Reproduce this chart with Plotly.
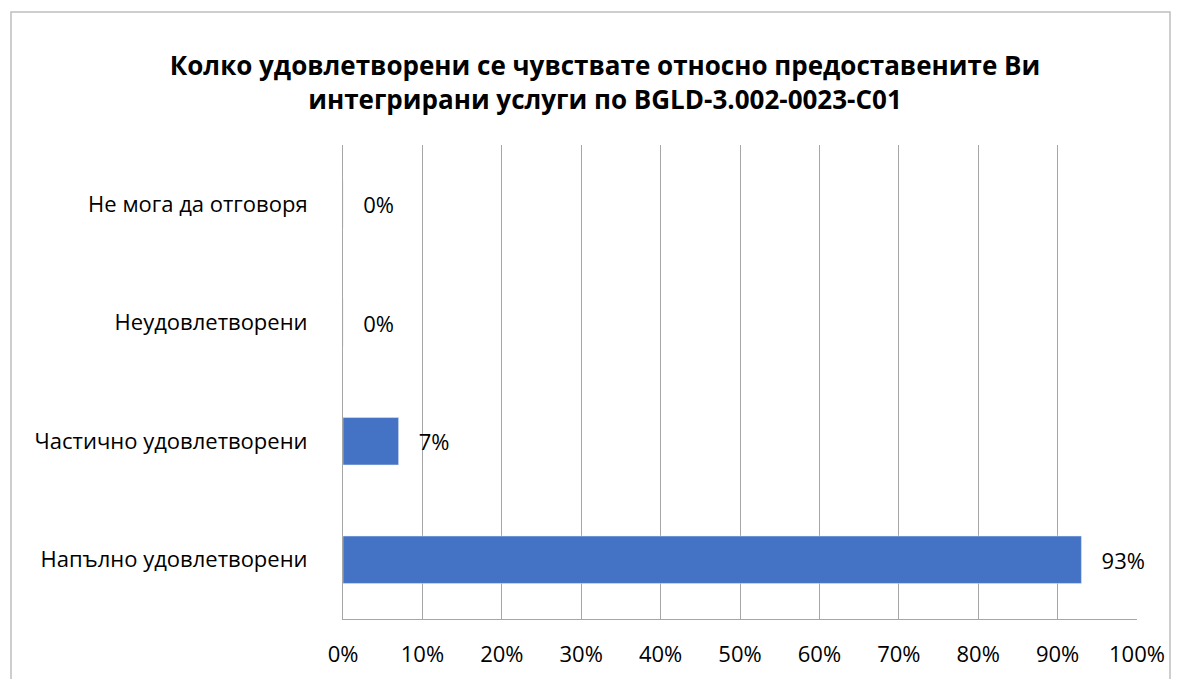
import plotly.graph_objects as go

categories = ["Напълно удовлетворени", "Частично удовлетворени", "Неудовлетворени", "Не мога да отговоря"]
values = [93, 7, 0, 0]
labels = ["93%", "7%", "0%", "0%"]
tick_vals = [0, 10, 20, 30, 40, 50, 60, 70, 80, 90, 100]
tick_text = ["0%", "10%", "20%", "30%", "40%", "50%", "60%", "70%", "80%", "90%", "100%"]

FONT = "Open Sans"
W, H = 1182, 679
# plot area in screen pixels
SX0, SX1, SY0, SY1 = 343, 1137, 145, 619
L, T = SX0, SY0
R, B = W - SX1, H - SY1
pw, ph = W - L - R, H - T - B

NB = "\u00a0"
fig = go.Figure(go.Bar(
    y=categories, x=values, orientation="h",
    marker=dict(color="#4472C4"),
    text=[NB * 3 + t for t in labels], textposition="outside", cliponaxis=False,
    textfont=dict(family=FONT, size=22, color="#000000"),
))

def px_x(p):
    return (p - L) / pw

def px_y(p):
    return (H - B - p) / ph

fig.update_layout(
    width=W, height=H,
    margin=dict(l=L, r=R, t=T, b=B, autoexpand=False),
    paper_bgcolor="white", plot_bgcolor="white",
    bargap=0.6,
    showlegend=False,
    font=dict(family=FONT, size=22, color="#000000"),
    title=dict(
        text="<b>Колко удовлетворени се чувствате относно предоставените Ви<br>интегрирани услуги по BGLD-3.002-0023-C01</b>",
        x=605 / W, xref="container", xanchor="center",
        y=1 - 75 / H, yref="container", yanchor="middle",
        font=dict(family=FONT, size=26, color="#000000"),
    ),
    xaxis=dict(
        range=[0, 100], tickvals=tick_vals, ticktext=tick_text,
        showgrid=True, gridcolor="#A6A6A6", gridwidth=1,
        zeroline=False, showline=True, linecolor="#A6A6A6", mirror=False,
        ticks="", ticklabelstandoff=16, automargin=False,
        tickfont=dict(family=FONT, size=22, color="#000000"),
    ),
    yaxis=dict(
        showgrid=False, zeroline=False, showline=True, linecolor="#A6A6A6",
        ticks="", ticklabelstandoff=30, automargin=False,
        tickfont=dict(family=FONT, size=22, color="#000000"),
    ),
    shapes=[dict(
        type="rect", xref="paper", yref="paper",
        x0=px_x(11), x1=px_x(1170), y0=px_y(720), y1=px_y(12),
        line=dict(color="#BFBFBF", width=1.5), fillcolor="rgba(0,0,0,0)", layer="below",
    )],
)

fig.write_html(
    "out.html",
    config={"displayModeBar": False},
    post_script="document.body.style.margin='0';document.body.style.overflow='hidden';",
)
